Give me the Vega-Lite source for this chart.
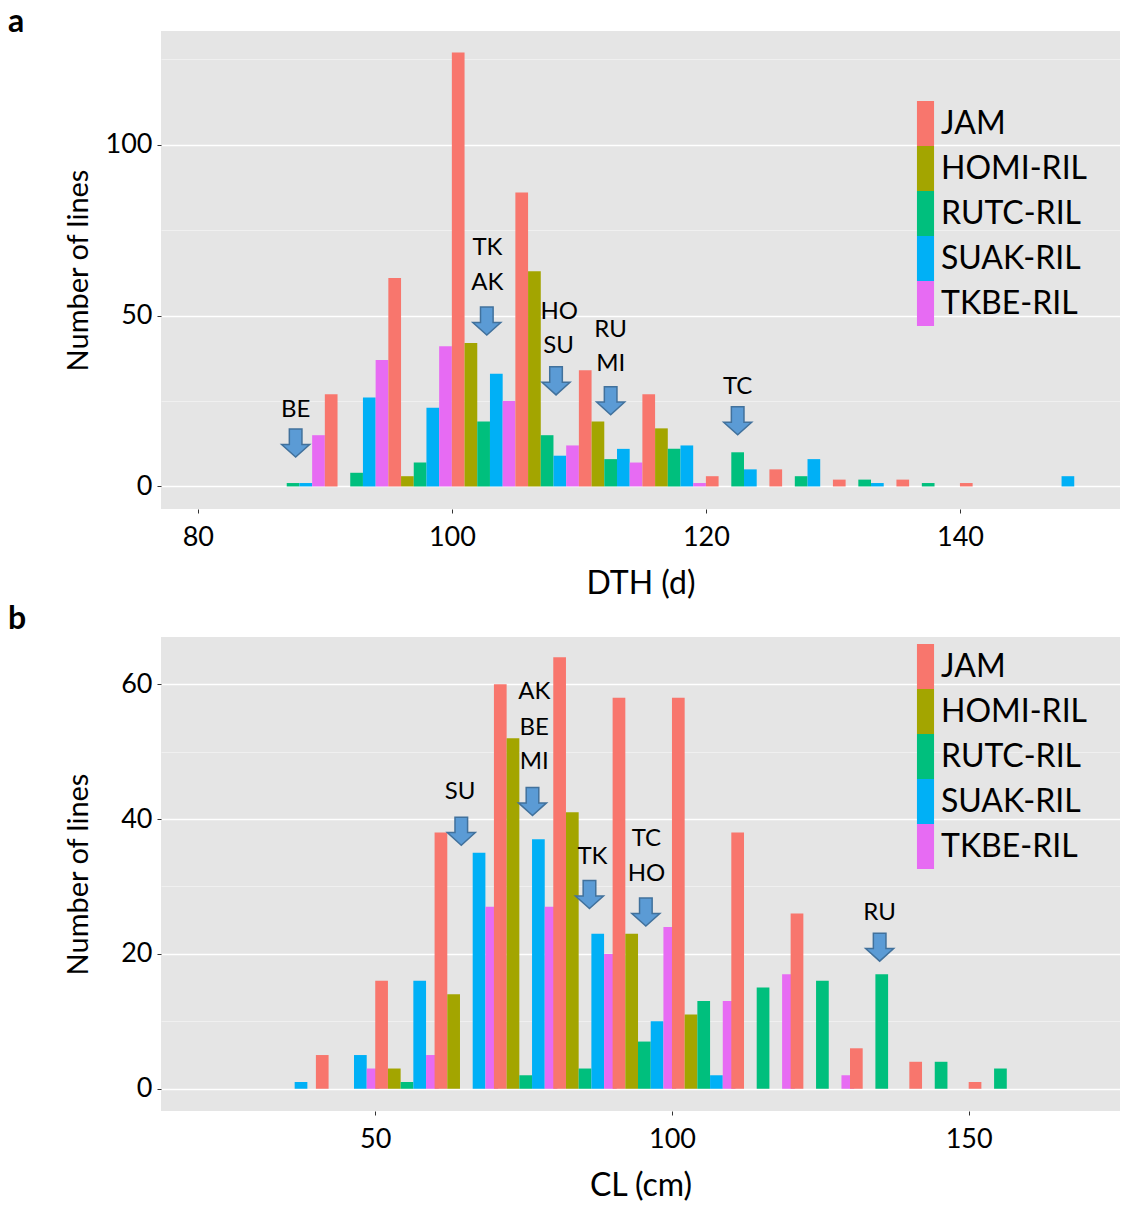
{
  "$schema": "https://vega.github.io/schema/vega-lite/v6.json",
  "padding": {"left": 8, "top": 6, "right": 0, "bottom": 0},
  "config": {
    "font": "Lato",
    "view": {"fill": "#E5E5E5", "stroke": null},
    "concat": {"spacing": 4},
    "title": {"fontSize": 32, "fontWeight": "bold", "color": "black", "anchor": "start", "frame": "group", "offset": -8},
    "axis": {"domain": false, "labelColor": "black", "titleColor": "black", "titleFontWeight": "normal", "tickColor": "#333333", "tickSize": 4, "labelOverlap": false, "labelFlush": false}
  },
  "datasets": {
    "dth": [
      {"bin": 85, "line": "RUTC-RIL", "count": 1},
      {"bin": 85, "line": "SUAK-RIL", "count": 1},
      {"bin": 85, "line": "TKBE-RIL", "count": 15},
      {"bin": 90, "line": "JAM", "count": 27},
      {"bin": 90, "line": "RUTC-RIL", "count": 4},
      {"bin": 90, "line": "SUAK-RIL", "count": 26},
      {"bin": 90, "line": "TKBE-RIL", "count": 37},
      {"bin": 95, "line": "JAM", "count": 61},
      {"bin": 95, "line": "HOMI-RIL", "count": 3},
      {"bin": 95, "line": "RUTC-RIL", "count": 7},
      {"bin": 95, "line": "SUAK-RIL", "count": 23},
      {"bin": 95, "line": "TKBE-RIL", "count": 41},
      {"bin": 100, "line": "JAM", "count": 127},
      {"bin": 100, "line": "HOMI-RIL", "count": 42},
      {"bin": 100, "line": "RUTC-RIL", "count": 19},
      {"bin": 100, "line": "SUAK-RIL", "count": 33},
      {"bin": 100, "line": "TKBE-RIL", "count": 25},
      {"bin": 105, "line": "JAM", "count": 86},
      {"bin": 105, "line": "HOMI-RIL", "count": 63},
      {"bin": 105, "line": "RUTC-RIL", "count": 15},
      {"bin": 105, "line": "SUAK-RIL", "count": 9},
      {"bin": 105, "line": "TKBE-RIL", "count": 12},
      {"bin": 110, "line": "JAM", "count": 34},
      {"bin": 110, "line": "HOMI-RIL", "count": 19},
      {"bin": 110, "line": "RUTC-RIL", "count": 8},
      {"bin": 110, "line": "SUAK-RIL", "count": 11},
      {"bin": 110, "line": "TKBE-RIL", "count": 7},
      {"bin": 115, "line": "JAM", "count": 27},
      {"bin": 115, "line": "HOMI-RIL", "count": 17},
      {"bin": 115, "line": "RUTC-RIL", "count": 11},
      {"bin": 115, "line": "SUAK-RIL", "count": 12},
      {"bin": 115, "line": "TKBE-RIL", "count": 1},
      {"bin": 120, "line": "JAM", "count": 3},
      {"bin": 120, "line": "RUTC-RIL", "count": 10},
      {"bin": 120, "line": "SUAK-RIL", "count": 5},
      {"bin": 125, "line": "JAM", "count": 5},
      {"bin": 125, "line": "RUTC-RIL", "count": 3},
      {"bin": 125, "line": "SUAK-RIL", "count": 8},
      {"bin": 130, "line": "JAM", "count": 2},
      {"bin": 130, "line": "RUTC-RIL", "count": 2},
      {"bin": 130, "line": "SUAK-RIL", "count": 1},
      {"bin": 135, "line": "JAM", "count": 2},
      {"bin": 135, "line": "RUTC-RIL", "count": 1},
      {"bin": 140, "line": "JAM", "count": 1},
      {"bin": 145, "line": "SUAK-RIL", "count": 3}
    ],
    "dthArrows": [
      {"x": 87.7, "y": 12.7},
      {"x": 102.75, "y": 48.4},
      {"x": 108.2, "y": 30.9},
      {"x": 112.5, "y": 25.1},
      {"x": 122.5, "y": 19.2}
    ],
    "dthLabels": [
      {"x": 87.7, "y": 22.4, "label": "BE"},
      {"x": 102.8, "y": 69.9, "label": "TK"},
      {"x": 102.8, "y": 59.5, "label": "AK"},
      {"x": 108.45, "y": 51.1, "label": "HO"},
      {"x": 108.4, "y": 41.1, "label": "SU"},
      {"x": 112.5, "y": 45.8, "label": "RU"},
      {"x": 112.5, "y": 35.8, "label": "MI"},
      {"x": 122.5, "y": 29.1, "label": "TC"}
    ],
    "cl": [
      {"bin": 30, "line": "SUAK-RIL", "count": 1},
      {"bin": 40, "line": "JAM", "count": 5},
      {"bin": 40, "line": "SUAK-RIL", "count": 5},
      {"bin": 40, "line": "TKBE-RIL", "count": 3},
      {"bin": 50, "line": "JAM", "count": 16},
      {"bin": 50, "line": "HOMI-RIL", "count": 3},
      {"bin": 50, "line": "RUTC-RIL", "count": 1},
      {"bin": 50, "line": "SUAK-RIL", "count": 16},
      {"bin": 50, "line": "TKBE-RIL", "count": 5},
      {"bin": 60, "line": "JAM", "count": 38},
      {"bin": 60, "line": "HOMI-RIL", "count": 14},
      {"bin": 60, "line": "SUAK-RIL", "count": 35},
      {"bin": 60, "line": "TKBE-RIL", "count": 27},
      {"bin": 70, "line": "JAM", "count": 60},
      {"bin": 70, "line": "HOMI-RIL", "count": 52},
      {"bin": 70, "line": "RUTC-RIL", "count": 2},
      {"bin": 70, "line": "SUAK-RIL", "count": 37},
      {"bin": 70, "line": "TKBE-RIL", "count": 27},
      {"bin": 80, "line": "JAM", "count": 64},
      {"bin": 80, "line": "HOMI-RIL", "count": 41},
      {"bin": 80, "line": "RUTC-RIL", "count": 3},
      {"bin": 80, "line": "SUAK-RIL", "count": 23},
      {"bin": 80, "line": "TKBE-RIL", "count": 20},
      {"bin": 90, "line": "JAM", "count": 58},
      {"bin": 90, "line": "HOMI-RIL", "count": 23},
      {"bin": 90, "line": "RUTC-RIL", "count": 7},
      {"bin": 90, "line": "SUAK-RIL", "count": 10},
      {"bin": 90, "line": "TKBE-RIL", "count": 24},
      {"bin": 100, "line": "JAM", "count": 58},
      {"bin": 100, "line": "HOMI-RIL", "count": 11},
      {"bin": 100, "line": "RUTC-RIL", "count": 13},
      {"bin": 100, "line": "SUAK-RIL", "count": 2},
      {"bin": 100, "line": "TKBE-RIL", "count": 13},
      {"bin": 110, "line": "JAM", "count": 38},
      {"bin": 110, "line": "RUTC-RIL", "count": 15},
      {"bin": 110, "line": "TKBE-RIL", "count": 17},
      {"bin": 120, "line": "JAM", "count": 26},
      {"bin": 120, "line": "RUTC-RIL", "count": 16},
      {"bin": 120, "line": "TKBE-RIL", "count": 2},
      {"bin": 130, "line": "JAM", "count": 6},
      {"bin": 130, "line": "RUTC-RIL", "count": 17},
      {"bin": 140, "line": "JAM", "count": 4},
      {"bin": 140, "line": "RUTC-RIL", "count": 4},
      {"bin": 150, "line": "JAM", "count": 1},
      {"bin": 150, "line": "RUTC-RIL", "count": 3}
    ],
    "clArrows": [
      {"x": 64.5, "y": 38.2},
      {"x": 76.5, "y": 42.6},
      {"x": 86.1, "y": 28.8},
      {"x": 95.6, "y": 26.2},
      {"x": 135.0, "y": 21.0}
    ],
    "clLabels": [
      {"x": 64.3, "y": 44.0, "label": "SU"},
      {"x": 76.8, "y": 58.8, "label": "AK"},
      {"x": 76.8, "y": 53.5, "label": "BE"},
      {"x": 76.8, "y": 48.5, "label": "MI"},
      {"x": 86.6, "y": 34.3, "label": "TK"},
      {"x": 95.7, "y": 37.0, "label": "TC"},
      {"x": 95.7, "y": 31.8, "label": "HO"},
      {"x": 135.0, "y": 26.0, "label": "RU"}
    ]
  },
  "vconcat": [
    {
      "title": {"text": "a", "dx": -153},
      "width": 959,
      "height": 478,
      "layer": [
        {
          "data": {"name": "dth"},
          "mark": {"type": "bar"},
          "encoding": {
            "x": {"field": "bin", "type": "ordinal", "scale": {"domain": [80, 85, 90, 95, 100, 105, 110, 115, 120, 125, 130, 135, 140, 145], "paddingInner": 0, "paddingOuter": 0.55, "align": 0.527, "round": false}, "axis": null},
            "xOffset": {"field": "line", "type": "nominal", "scale": {"domain": ["JAM", "HOMI-RIL", "RUTC-RIL", "SUAK-RIL", "TKBE-RIL"], "paddingInner": 0, "paddingOuter": 0}},
            "y": {"field": "count", "type": "quantitative", "scale": {"domain": [-6.6, 133.3], "nice": false, "zero": false},
              "axis": {"values": [0, 25, 50, 75, 100, 125], "labelExpr": "datum.value % 50 == 0 ? datum.label : ''", "title": "Number of lines", "titleFontSize": 29, "labelFontSize": 27, "labelPadding": 5, "titlePadding": 12,
                "gridColor": {"condition": {"test": "datum.value % 50 == 0", "value": "#FFFFFF"}, "value": "#F2F2F2"},
                "gridWidth": {"condition": {"test": "datum.value % 50 == 0", "value": 1.6}, "value": 0.8},
                "tickOpacity": {"condition": {"test": "datum.value % 50 == 0", "value": 1}, "value": 0}}},
            "y2": {"datum": 0},
            "color": {"field": "line", "type": "nominal", "scale": {"domain": ["JAM", "HOMI-RIL", "RUTC-RIL", "SUAK-RIL", "TKBE-RIL"], "range": ["#F8766D", "#A3A500", "#00BF7D", "#00B0F6", "#E76BF3"]},
              "legend": {"orient": "none", "legendX": 742, "legendY": 70, "title": null, "symbolType": "M-0.38,-1L0.38,-1L0.38,1L-0.38,1Z", "symbolSize": 2025, "symbolStrokeWidth": 0, "symbolOpacity": 1, "labelFontSize": 32, "labelColor": "black", "labelLimit": 400, "rowPadding": 0, "labelOffset": -7, "padding": 0}}
          }
        },
        {
          "data": {"name": "dthArrows"},
          "mark": {"type": "point", "shape": "M-0.45,-1L0.45,-1L0.45,0.1L1,0.1L0,1L-1,0.1L-0.45,0.1Z", "size": 784, "filled": true, "fill": "#5B9BD5", "stroke": "#41719C", "strokeWidth": 1.5, "opacity": 1},
          "encoding": {
            "x": {"field": "x", "type": "quantitative", "scale": {"domain": [77.1, 152.6], "nice": false, "zero": false},
              "axis": {"values": [80, 90, 100, 110, 120, 130, 140, 150], "labelExpr": "datum.value % 20 == 0 ? datum.label : ''", "title": "DTH (d)", "titleFontSize": 32, "labelFontSize": 27, "labelPadding": 11, "titlePadding": 18,
                "gridColor": {"condition": {"test": "datum.value % 20 == 0", "value": "#FFFFFF"}, "value": "#F2F2F2"},
                "gridWidth": {"condition": {"test": "datum.value % 20 == 0", "value": 1.6}, "value": 0.8},
                "tickOpacity": {"condition": {"test": "datum.value % 20 == 0", "value": 1}, "value": 0}}},
            "y": {"field": "y", "type": "quantitative"}
          }
        },
        {
          "data": {"name": "dthLabels"},
          "mark": {"type": "text", "fontSize": 24, "color": "black", "align": "center", "baseline": "middle"},
          "encoding": {
            "x": {"field": "x", "type": "quantitative", "scale": {"domain": [77.1, 152.6], "nice": false, "zero": false}, "axis": null},
            "y": {"field": "y", "type": "quantitative"},
            "text": {"field": "label"}
          }
        }
      ],
      "resolve": {"scale": {"x": "independent"}}
    },
    {
      "title": {"text": "b", "dx": -153, "offset": 1},
      "width": 959,
      "height": 474,
      "layer": [
        {
          "data": {"name": "cl"},
          "mark": {"type": "bar"},
          "encoding": {
            "x": {"field": "bin", "type": "ordinal", "scale": {"domain": [20, 30, 40, 50, 60, 70, 80, 90, 100, 110, 120, 130, 140, 150, 160], "paddingInner": 0, "paddingOuter": 0.58, "align": 0.526, "round": false}, "axis": null},
            "xOffset": {"field": "line", "type": "nominal", "scale": {"domain": ["JAM", "HOMI-RIL", "RUTC-RIL", "SUAK-RIL", "TKBE-RIL"], "paddingInner": 0, "paddingOuter": 0}},
            "y": {"field": "count", "type": "quantitative", "scale": {"domain": [-3.3, 67.0], "nice": false, "zero": false},
              "axis": {"values": [0, 10, 20, 30, 40, 50, 60], "labelExpr": "datum.value % 20 == 0 ? datum.label : ''", "title": "Number of lines", "titleFontSize": 29, "labelFontSize": 27, "labelPadding": 5, "titlePadding": 27,
                "gridColor": {"condition": {"test": "datum.value % 20 == 0", "value": "#FFFFFF"}, "value": "#F2F2F2"},
                "gridWidth": {"condition": {"test": "datum.value % 20 == 0", "value": 1.6}, "value": 0.8},
                "tickOpacity": {"condition": {"test": "datum.value % 20 == 0", "value": 1}, "value": 0}}},
            "y2": {"datum": 0},
            "color": {"field": "line", "type": "nominal", "scale": {"domain": ["JAM", "HOMI-RIL", "RUTC-RIL", "SUAK-RIL", "TKBE-RIL"], "range": ["#F8766D", "#A3A500", "#00BF7D", "#00B0F6", "#E76BF3"]},
              "legend": {"orient": "none", "legendX": 742, "legendY": 7, "title": null, "symbolType": "M-0.38,-1L0.38,-1L0.38,1L-0.38,1Z", "symbolSize": 2025, "symbolStrokeWidth": 0, "symbolOpacity": 1, "labelFontSize": 32, "labelColor": "black", "labelLimit": 400, "rowPadding": 0, "labelOffset": -7, "padding": 0}}
          }
        },
        {
          "data": {"name": "clArrows"},
          "mark": {"type": "point", "shape": "M-0.45,-1L0.45,-1L0.45,0.1L1,0.1L0,1L-1,0.1L-0.45,0.1Z", "size": 784, "filled": true, "fill": "#5B9BD5", "stroke": "#41719C", "strokeWidth": 1.5, "opacity": 1},
          "encoding": {
            "x": {"field": "x", "type": "quantitative", "scale": {"domain": [13.9, 175.5], "nice": false, "zero": false},
              "axis": {"values": [25, 50, 75, 100, 125, 150, 175], "labelExpr": "datum.value % 50 == 0 ? datum.label : ''", "title": "CL (cm)", "titleFontSize": 32, "labelFontSize": 27, "labelPadding": 11, "titlePadding": 18,
                "gridColor": {"condition": {"test": "datum.value % 50 == 0", "value": "#FFFFFF"}, "value": "#F2F2F2"},
                "gridWidth": {"condition": {"test": "datum.value % 50 == 0", "value": 1.6}, "value": 0.8},
                "tickOpacity": {"condition": {"test": "datum.value % 50 == 0", "value": 1}, "value": 0}}},
            "y": {"field": "y", "type": "quantitative"}
          }
        },
        {
          "data": {"name": "clLabels"},
          "mark": {"type": "text", "fontSize": 24, "color": "black", "align": "center", "baseline": "middle"},
          "encoding": {
            "x": {"field": "x", "type": "quantitative", "scale": {"domain": [13.9, 175.5], "nice": false, "zero": false}, "axis": null},
            "y": {"field": "y", "type": "quantitative"},
            "text": {"field": "label"}
          }
        }
      ],
      "resolve": {"scale": {"x": "independent"}}
    }
  ],
  "resolve": {"scale": {"color": "shared"}, "legend": {"color": "independent"}}
}
